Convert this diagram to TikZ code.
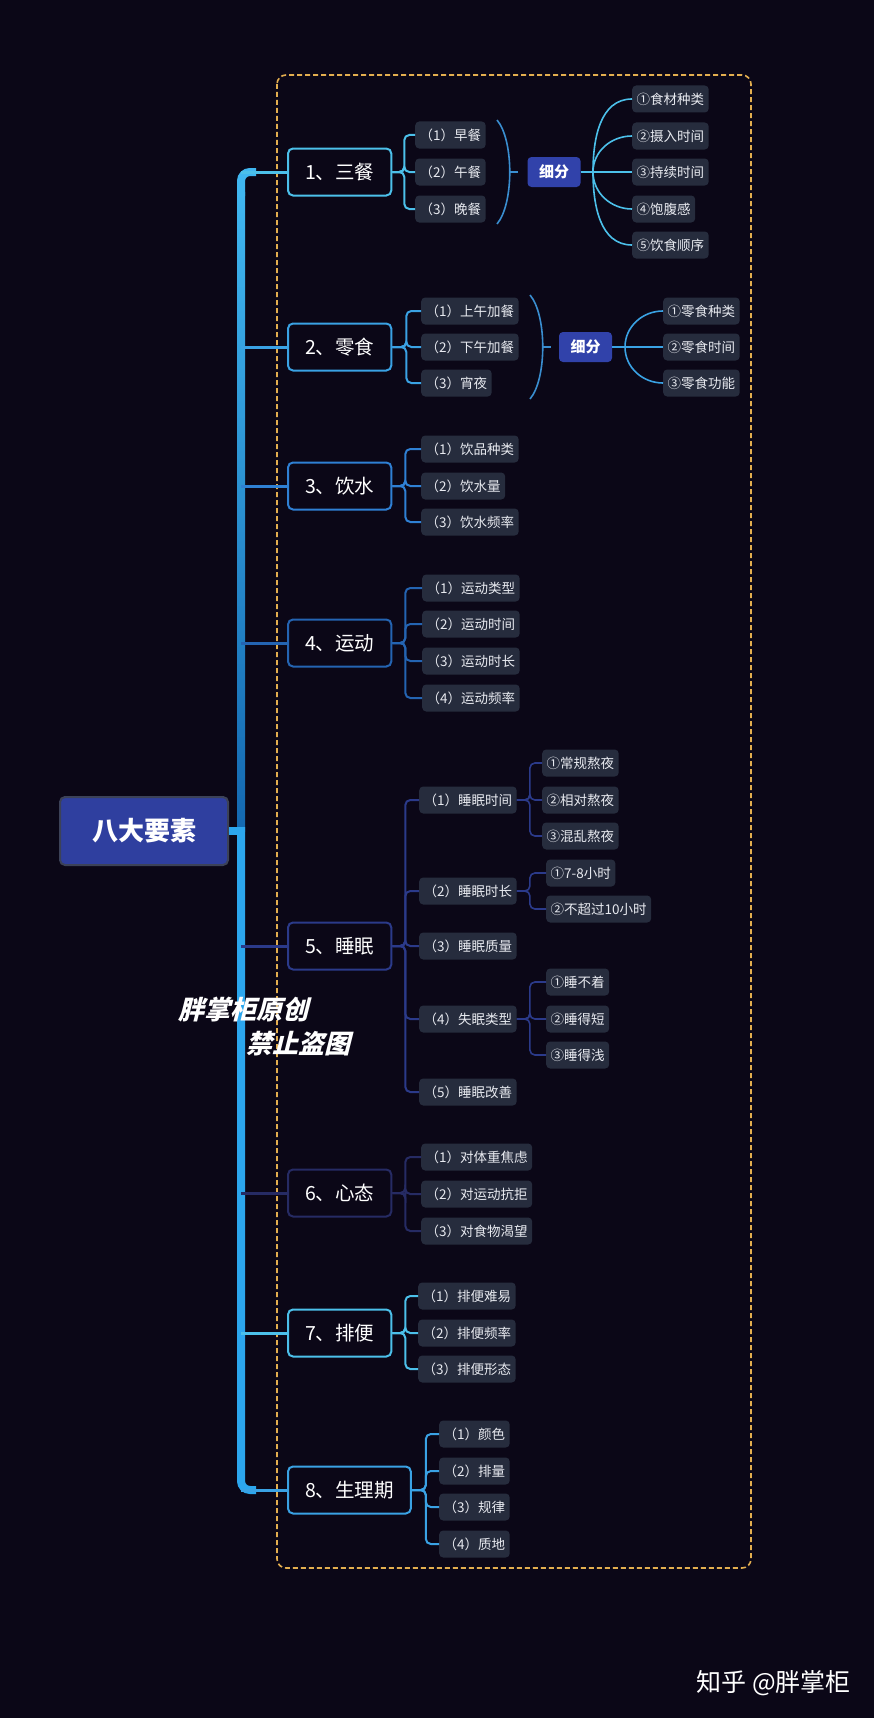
\documentclass[tikz,border=0pt]{standalone}
\usepackage{fontspec}
\setmainfont{Noto Sans CJK SC}
\newfontfamily\wmfont[FakeSlant=0.25]{Noto Sans CJK SC}

\definecolor{bgcol}{HTML}{0B0717}
\definecolor{framecol}{HTML}{E3AE4F}
\definecolor{rootbg}{HTML}{2F3F9F}
\definecolor{rootline}{HTML}{3C4258}
\definecolor{splitbg}{HTML}{3142AA}
\definecolor{leafbg}{HTML}{262C3D}
\definecolor{leaftext}{HTML}{E8EAF0}
\definecolor{parcol}{HTML}{3A8ED0}
\definecolor{trunkA}{HTML}{40B6F0}
\definecolor{trunkB}{HTML}{1468B0}
\definecolor{trunkL}{HTML}{2CA6EE}
\definecolor{catA}{HTML}{4CC0EA}
\definecolor{catB}{HTML}{3AA2E4}
\definecolor{catC}{HTML}{2F80D4}
\definecolor{catD}{HTML}{2464B2}
\definecolor{catE}{HTML}{2B3A8A}
\definecolor{catF}{HTML}{262B64}

\begin{document}
\begin{tikzpicture}[x=1pt, y=-1pt,
    catbox/.style={draw, line width=2pt, rounded corners=5pt, fill=bgcol, text=white,
        font=\fontsize{19.5pt}{22pt}\selectfont, inner xsep=17pt, minimum height=47pt, anchor=west},
    leafbox/.style={fill=leafbg, rounded corners=4pt, text=leaftext,
        font=\fontsize{13.5pt}{16pt}\selectfont, inner xsep=4.5pt, minimum height=27pt, anchor=west},
    splitbox/.style={fill=splitbg, rounded corners=4pt, text=white,
        font=\bfseries\fontsize{15pt}{18pt}\selectfont, minimum width=53pt, minimum height=30pt},
    linkline/.style={line width=2pt, rounded corners=5pt},
    fanline/.style={line width=1.6pt},
    markbox/.style={text=white, inner sep=0pt, anchor=west, font=\wmfont\bfseries\fontsize{26pt}{30pt}\selectfont}]

    % Background and frame
    \fill[bgcol] (0,0) rectangle (874,1718);
    \draw[framecol, line width=1.6pt, dash pattern=on 5pt off 3pt, rounded corners=9pt] (277,75) rectangle (751,1568);

    % Root
    \node[draw=rootline, line width=2pt, fill=rootbg, rounded corners=5pt, text=white,
        font=\bfseries\fontsize{26pt}{30pt}\selectfont, minimum width=168pt, minimum height=68pt] (root) at (144,831) {八大要素};

    % Trunk
    \coordinate (tk) at (241,172);
    \shade[top color=trunkA, bottom color=trunkB] (237,192) rectangle (245,831);
    \draw[line width=8pt, trunkA, rounded corners=9pt] (241,196) -- (241,172) -- (256,172);
    \draw[line width=8pt, trunkL, rounded corners=9pt] (241,827) -- (241,1490) -- (256,1490);
    \draw[line width=8pt, trunkL] (root.east) -- (root.east -| tk);

    % Main branches
    \node[catbox, draw=catA] (s1) at (287,172) {1、三餐};
    \node[catbox, draw=catB] (s2) at (287,347) {2、零食};
    \node[catbox, draw=catC] (s3) at (287,486) {3、饮水};
    \node[catbox, draw=catD] (s4) at (287,643) {4、运动};
    \node[catbox, draw=catE] (s5) at (287,946) {5、睡眠};
    \node[catbox, draw=catF] (s6) at (287,1193) {6、心态};
    \node[catbox, draw=catA] (s7) at (287,1333) {7、排便};
    \node[catbox, draw=catB] (s8) at (287,1490) {8、生理期};
    \draw[line width=3pt, catA] (s1.west) -- (s1.west -| tk);
    \draw[line width=3pt, catB] (s2.west) -- (s2.west -| tk);
    \draw[line width=3pt, catC] (s3.west) -- (s3.west -| tk);
    \draw[line width=3pt, catD] (s4.west) -- (s4.west -| tk);
    \draw[line width=3pt, catE] (s5.west) -- (s5.west -| tk);
    \draw[line width=3pt, catF] (s6.west) -- (s6.west -| tk);
    \draw[line width=3pt, catA] (s7.west) -- (s7.west -| tk);
    \draw[line width=3pt, catB] (s8.west) -- (s8.west -| tk);

    % 1
    \node[leafbox] (s1a) at (415,135) {（1）早餐};
    \node[leafbox] (s1b) at (415,172) {（2）午餐};
    \node[leafbox] (s1c) at (415,209) {（3）晚餐};
    \draw[linkline, catA] (s1.east) -- ++(12,0) |- (s1a.west);
    \draw[linkline, catA] (s1.east) -- ++(12,0) |- (s1b.west);
    \draw[linkline, catA] (s1.east) -- ++(12,0) |- (s1c.west);
    \coordinate (p1) at (510,172);
    \draw[fanline, parcol] (497,120) .. controls (514,140) and (514,204) .. (497,224);
    \node[splitbox] (d1) at (554,172) {细分};
    \draw[fanline, parcol, shorten >=9pt] (p1) -- (d1.west);
    \node[leafbox] (f1a) at (632,99) {①食材种类};
    \node[leafbox] (f1b) at (632,136) {②摄入时间};
    \node[leafbox] (f1c) at (632,172) {③持续时间};
    \node[leafbox] (f1d) at (632,209) {④饱腹感};
    \node[leafbox] (f1e) at (632,245) {⑤饮食顺序};
    \coordinate (k1) at (593,172);
    \draw[fanline, catA] (d1.east) -- (k1);
    \draw[fanline, catA] (k1) to[out=90, in=180] (f1a.west);
    \draw[fanline, catA] (k1) to[out=90, in=180] (f1b.west);
    \draw[fanline, catA] (k1) -- (f1c.west);
    \draw[fanline, catA] (k1) to[out=-90, in=180] (f1d.west);
    \draw[fanline, catA] (k1) to[out=-90, in=180] (f1e.west);

    % 2
    \node[leafbox] (s2a) at (421,311) {（1）上午加餐};
    \node[leafbox] (s2b) at (421,347) {（2）下午加餐};
    \node[leafbox] (s2c) at (421,383) {（3）宵夜};
    \draw[linkline, catB] (s2.east) -- ++(14,0) |- (s2a.west);
    \draw[linkline, catB] (s2.east) -- ++(14,0) |- (s2b.west);
    \draw[linkline, catB] (s2.east) -- ++(14,0) |- (s2c.west);
    \coordinate (p2) at (543,347);
    \draw[fanline, parcol] (530,295) .. controls (547,315) and (547,379) .. (530,399);
    \node[splitbox] (d2) at (585.5,347) {细分};
    \draw[fanline, parcol, shorten >=8pt] (p2) -- (d2.west);
    \node[leafbox] (f2a) at (663,311) {①零食种类};
    \node[leafbox] (f2b) at (663,347) {②零食时间};
    \node[leafbox] (f2c) at (663,383) {③零食功能};
    \coordinate (k2) at (625,347);
    \draw[fanline, catB] (d2.east) -- (k2);
    \draw[fanline, catB] (k2) to[out=90, in=180] (f2a.west);
    \draw[fanline, catB] (k2) -- (f2b.west);
    \draw[fanline, catB] (k2) to[out=-90, in=180] (f2c.west);

    % 3
    \node[leafbox] (s3a) at (421,449) {（1）饮品种类};
    \node[leafbox] (s3b) at (421,486) {（2）饮水量};
    \node[leafbox] (s3c) at (421,522) {（3）饮水频率};
    \draw[linkline, catC] (s3.east) -- ++(13,0) |- (s3a.west);
    \draw[linkline, catC] (s3.east) -- ++(13,0) |- (s3b.west);
    \draw[linkline, catC] (s3.east) -- ++(13,0) |- (s3c.west);

    % 4
    \node[leafbox] (s4a) at (422,588) {（1）运动类型};
    \node[leafbox] (s4b) at (422,624) {（2）运动时间};
    \node[leafbox] (s4c) at (422,661) {（3）运动时长};
    \node[leafbox] (s4d) at (422,698) {（4）运动频率};
    \draw[linkline, catD] (s4.east) -- ++(13,0) |- (s4a.west);
    \draw[linkline, catD] (s4.east) -- ++(13,0) |- (s4b.west);
    \draw[linkline, catD] (s4.east) -- ++(13,0) |- (s4c.west);
    \draw[linkline, catD] (s4.east) -- ++(13,0) |- (s4d.west);

    % 5
    \node[leafbox] (s5a) at (419,800) {（1）睡眠时间};
    \node[leafbox] (s5b) at (419,891) {（2）睡眠时长};
    \node[leafbox] (s5c) at (419,946) {（3）睡眠质量};
    \node[leafbox] (s5d) at (419,1019) {（4）失眠类型};
    \node[leafbox] (s5e) at (419,1092) {（5）睡眠改善};
    \draw[linkline, catE] (s5.east) -- ++(13,0) |- (s5a.west);
    \draw[linkline, catE] (s5.east) -- ++(13,0) |- (s5b.west);
    \draw[linkline, catE] (s5.east) -- ++(13,0) |- (s5c.west);
    \draw[linkline, catE] (s5.east) -- ++(13,0) |- (s5d.west);
    \draw[linkline, catE] (s5.east) -- ++(13,0) |- (s5e.west);
    \node[leafbox] (g5a) at (542,763) {①常规熬夜};
    \node[leafbox] (g5b) at (542,800) {②相对熬夜};
    \node[leafbox] (g5c) at (542,836) {③混乱熬夜};
    \node[leafbox] (g5d) at (546,873) {①7-8小时};
    \node[leafbox] (g5e) at (546,909) {②不超过10小时};
    \node[leafbox] (g5f) at (546,982) {①睡不着};
    \node[leafbox] (g5g) at (546,1019) {②睡得短};
    \node[leafbox] (g5h) at (546,1055) {③睡得浅};
    \draw[linkline, line width=1.6pt, catE] (s5a.east) -- ++(13,0) |- (g5a.west);
    \draw[linkline, line width=1.6pt, catE] (s5a.east) -- ++(13,0) |- (g5b.west);
    \draw[linkline, line width=1.6pt, catE] (s5a.east) -- ++(13,0) |- (g5c.west);
    \draw[linkline, line width=1.6pt, catE] (s5b.east) -- ++(13,0) |- (g5d.west);
    \draw[linkline, line width=1.6pt, catE] (s5b.east) -- ++(13,0) |- (g5e.west);
    \draw[linkline, line width=1.6pt, catE] (s5d.east) -- ++(13,0) |- (g5f.west);
    \draw[linkline, line width=1.6pt, catE] (s5d.east) -- ++(13,0) |- (g5g.west);
    \draw[linkline, line width=1.6pt, catE] (s5d.east) -- ++(13,0) |- (g5h.west);

    % 6
    \node[leafbox] (s6a) at (421,1157) {（1）对体重焦虑};
    \node[leafbox] (s6b) at (421,1194) {（2）对运动抗拒};
    \node[leafbox] (s6c) at (421,1231) {（3）对食物渴望};
    \draw[linkline, catF] (s6.east) -- ++(13,0) |- (s6a.west);
    \draw[linkline, catF] (s6.east) -- ++(13,0) |- (s6b.west);
    \draw[linkline, catF] (s6.east) -- ++(13,0) |- (s6c.west);

    % 7
    \node[leafbox] (s7a) at (418,1296) {（1）排便难易};
    \node[leafbox] (s7b) at (418,1333) {（2）排便频率};
    \node[leafbox] (s7c) at (418,1369) {（3）排便形态};
    \draw[linkline, catA] (s7.east) -- ++(13,0) |- (s7a.west);
    \draw[linkline, catA] (s7.east) -- ++(13,0) |- (s7b.west);
    \draw[linkline, catA] (s7.east) -- ++(13,0) |- (s7c.west);

    % 8
    \node[leafbox] (s8a) at (439,1434) {（1）颜色};
    \node[leafbox] (s8b) at (439,1471) {（2）排量};
    \node[leafbox] (s8c) at (439,1507) {（3）规律};
    \node[leafbox] (s8d) at (439,1544) {（4）质地};
    \draw[linkline, catB] (s8.east) -- ++(14,0) |- (s8a.west);
    \draw[linkline, catB] (s8.east) -- ++(14,0) |- (s8b.west);
    \draw[linkline, catB] (s8.east) -- ++(14,0) |- (s8c.west);
    \draw[linkline, catB] (s8.east) -- ++(14,0) |- (s8d.west);

    % Marks
    \node[markbox] (wm1) at (178,1010) {胖掌柜原创};
    \node[markbox] (wm2) at (246,1044) {禁止盗图};
    \node[text=white, inner sep=0pt, anchor=east, font=\fontsize{25pt}{28pt}\selectfont] (zh) at (851,1683) {知乎 @胖掌柜};
\end{tikzpicture}
\end{document}
